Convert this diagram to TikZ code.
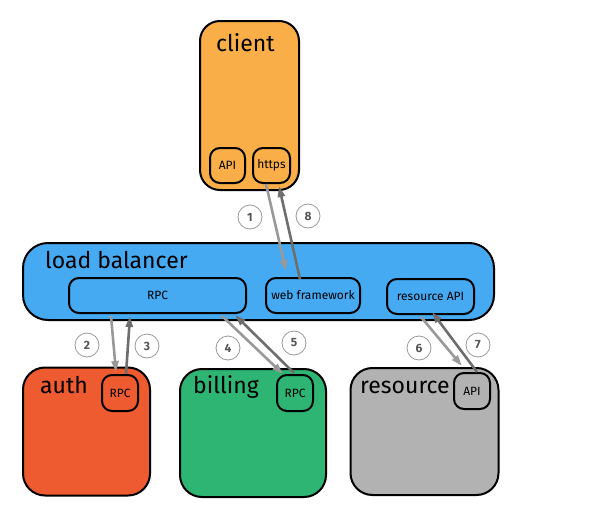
\documentclass[tikz,border=0pt]{standalone}
\usepackage{fontspec}
\setmainfont{Fira Sans}
\usetikzlibrary{arrows.meta}
\definecolor{clientc}{HTML}{F9AE48}
\definecolor{lbc}{HTML}{45AAF2}
\definecolor{authc}{HTML}{EF5B30}
\definecolor{billc}{HTML}{2EB574}
\definecolor{resc}{HTML}{B2B2B2}
\definecolor{reqc}{HTML}{999999}
\definecolor{respc}{HTML}{6E6E6E}
\definecolor{numc}{HTML}{555555}
\tikzset{
  bigbox/.style={draw=black, line width=2pt, inner sep=0pt},
  smallbox/.style={draw=black, line width=2pt, rounded corners=10pt, inner sep=0pt, font=\fontsize{12}{14}\selectfont},
  title/.style={anchor=base west, inner sep=0pt, font=\fontsize{23}{26}\selectfont},
  req/.style={draw=reqc, line width=2.6pt, -{Triangle[length=11pt,width=7pt]}, shorten >=0pt},
  resp/.style={draw=respc, line width=2.6pt, -{Triangle[length=11pt,width=7pt]}},
  num/.style={circle, draw=reqc, line width=0.8pt, minimum size=24pt, inner sep=0pt, text=numc, font=\bfseries\fontsize{12}{14}\selectfont}
}
\begin{document}
\begin{tikzpicture}[x=1pt,y=-1pt]
\useasboundingbox (0,0) rectangle (590,506);
% big boxes
\node[bigbox, fill=clientc, rounded corners=20pt, minimum width=99pt, minimum height=169pt] (client) at (249.5,105.5) {};
\node[bigbox, fill=lbc, rounded corners=25pt, minimum width=471pt, minimum height=77pt] (lb) at (258.5,281.5) {};
\node[bigbox, fill=authc, rounded corners=22pt, minimum width=127pt, minimum height=128pt] (auth) at (86.5,431.5) {};
\node[bigbox, fill=billc, rounded corners=22pt, minimum width=146pt, minimum height=128pt] (billing) at (253,433) {};
\node[bigbox, fill=resc, rounded corners=22pt, minimum width=148pt, minimum height=127pt] (resource) at (424.5,431.5) {};
% titles
\node[title] (clientt) at (216,51) {client};
\node[title] (lbt) at (45,268) {load balancer};
\node[title] (autht) at (40,393) {auth};
\node[title] (billt) at (193,393) {billing};
\node[title] (rest) at (360,393) {resource};
% small boxes
\node[smallbox, fill=clientc, minimum width=35pt, minimum height=35pt] (capi) at (227.5,165.5) {API};
\node[smallbox, fill=clientc, minimum width=37pt, minimum height=35pt] (https) at (271.5,165.5) {https};
\node[smallbox, fill=lbc, minimum width=177pt, minimum height=35pt] (lbrpc) at (157.5,295.5) {RPC};
\node[smallbox, fill=lbc, minimum width=94pt, minimum height=35pt] (wf) at (313,295.5) {web framework};
\node[smallbox, fill=lbc, minimum width=87pt, minimum height=35pt] (rapi) at (430.5,296.5) {resource API};
\node[smallbox, fill=authc, minimum width=36pt, minimum height=36pt] (arpc) at (120,393) {RPC};
\node[smallbox, fill=billc, minimum width=36pt, minimum height=36pt] (brpc) at (295,393) {RPC};
\node[smallbox, fill=resc, minimum width=36pt, minimum height=36pt] (resapi) at (472,391) {API};
% arrows
\draw[req] ([shift={(-5.5,0)}]https.south) -- ([shift={(-27,-6)}]wf.north);
\draw[resp] ([shift={(-13,2)}]wf.north) -- ([shift={(7.5,2)}]https.south);
\draw[req] ([shift={(-46.5,2)}]lbrpc.south) -- ([shift={(-4,-2)}]arpc.north);
\draw[resp] ([shift={(6,0)}]arpc.north) -- ([shift={(-27.5,2)}]lbrpc.south);
\draw[req] ([shift={(64.5,2)}]lbrpc.south) -- ([shift={(-12,0)}]brpc.north);
\draw[resp] ([shift={(-1,-1)}]brpc.north) -- ([shift={(77.5,1)}]lbrpc.south);
\draw[req] ([shift={(-9.5,2)}]rapi.south) -- ([shift={(-10,-6)}]resapi.north);
\draw[resp] ([shift={(5,0)}]resapi.north) -- ([shift={(1.5,-3)}]rapi.south);
% numbers
\node[num] (n1) at (250,217) {1};
\node[num] (n8) at (308,216) {8};
\node[num] (n2) at (87,345) {2};
\node[num] (n3) at (147,346) {3};
\node[num] (n4) at (228,348) {4};
\node[num] (n5) at (294,343) {5};
\node[num] (n6) at (419,348) {6};
\node[num] (n7) at (478,345) {7};
\end{tikzpicture}
\end{document}
